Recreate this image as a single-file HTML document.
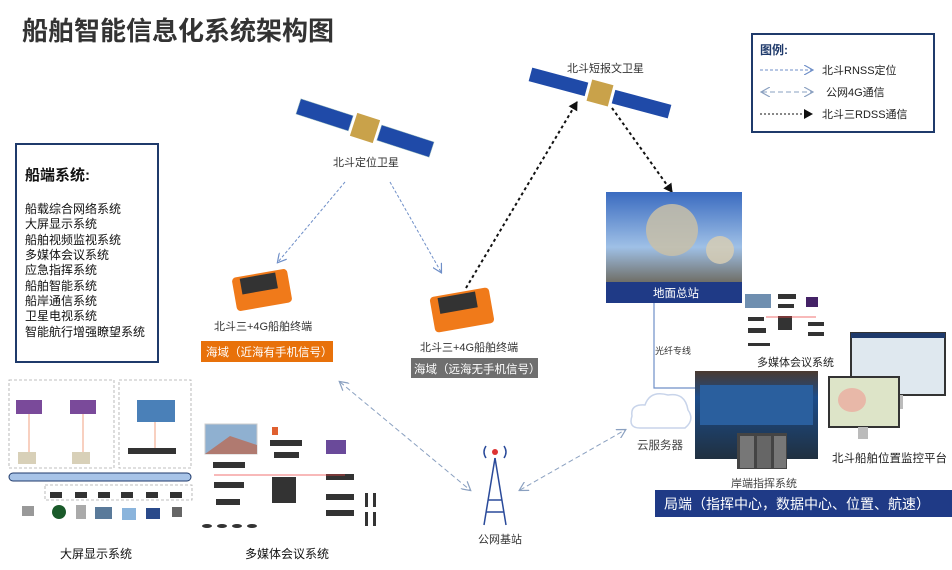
<!DOCTYPE html>
<html><head><meta charset="utf-8"><style>
body{margin:0;width:952px;height:565px;overflow:hidden;background:#fff;font-family:"Liberation Sans","Noto Sans CJK SC",sans-serif;}
svg text{font-family:"Liberation Sans","Noto Sans CJK SC",sans-serif;}
</style></head><body>
<svg width="952" height="565" viewBox="0 0 952 565" xmlns="http://www.w3.org/2000/svg">
<defs>
<marker id="ab" markerWidth="10" markerHeight="10" refX="8" refY="5" orient="auto" markerUnits="userSpaceOnUse"><path d="M0,0 L9,5 L0,10" fill="none" stroke="#6f8fc8" stroke-width="1.2"/></marker>
<marker id="ak" markerWidth="10" markerHeight="10" refX="8" refY="5" orient="auto" markerUnits="userSpaceOnUse"><path d="M0,0 L9,5 L0,10 z" fill="#111"/></marker>
<marker id="ag" markerWidth="10" markerHeight="10" refX="8" refY="5" orient="auto-start-reverse" markerUnits="userSpaceOnUse"><path d="M0,0 L9,5 L0,10" fill="none" stroke="#8aa0c0" stroke-width="1.2"/></marker>
<linearGradient id="sky" x1="0" y1="0" x2="0" y2="1"><stop offset="0" stop-color="#3a6bc0"/><stop offset="0.6" stop-color="#9fc0e6"/><stop offset="1" stop-color="#6d6a60"/></linearGradient>
<linearGradient id="wall" x1="0" y1="0" x2="0" y2="1"><stop offset="0" stop-color="#4a3a30"/><stop offset="0.3" stop-color="#1c4c8a"/><stop offset="1" stop-color="#203040"/></linearGradient>
</defs>
<text x="22" y="40" font-size="26" font-weight="bold" fill="#333">船舶智能信息化系统架构图</text>

<!-- legend -->
<rect x="752" y="34" width="182" height="98" fill="#fff" stroke="#1f3a6b" stroke-width="2"/>
<text x="760" y="54" font-size="12" font-weight="bold" fill="#1f3a6b">图例:</text>
<line x1="760" y1="70" x2="812" y2="70" stroke="#6f8fc8" stroke-dasharray="3,2" marker-end="url(#ab)"/>
<text x="822" y="74" font-size="11" fill="#222">北斗RNSS定位</text>
<line x1="762" y1="92" x2="812" y2="92" stroke="#8aa0c0" stroke-dasharray="5,3" marker-start="url(#ag)" marker-end="url(#ag)"/>
<text x="826" y="96" font-size="11" fill="#222">公网4G通信</text>
<line x1="760" y1="114" x2="812" y2="114" stroke="#111" stroke-dasharray="2,2" marker-end="url(#ak)"/>
<text x="822" y="118" font-size="11" fill="#222">北斗三RDSS通信</text>

<!-- satellite 1 -->
<g transform="translate(365,128) rotate(18)">
<rect x="-70" y="-8" width="55" height="16" fill="#1f4aa8" stroke="#9bb" stroke-width="0.5"/>
<rect x="15" y="-8" width="55" height="16" fill="#1f4aa8" stroke="#9bb" stroke-width="0.5"/>
<rect x="-12" y="-12" width="24" height="24" fill="#c9a24a"/>
</g>
<text x="333" y="166" font-size="11" fill="#333">北斗定位卫星</text>
<!-- satellite 2 -->
<g transform="translate(600,93) rotate(15)">
<rect x="-72" y="-7" width="58" height="14" fill="#1f4aa8"/>
<rect x="14" y="-7" width="58" height="14" fill="#1f4aa8"/>
<rect x="-11" y="-11" width="22" height="22" fill="#c9a24a"/>
</g>
<text x="567" y="72" font-size="11" fill="#333">北斗短报文卫星</text>

<!-- RNSS arrows -->
<line x1="345" y1="182" x2="278" y2="262" stroke="#6f8fc8" stroke-dasharray="3,2" marker-end="url(#ab)"/>
<line x1="390" y1="182" x2="441" y2="272" stroke="#6f8fc8" stroke-dasharray="3,2" marker-end="url(#ab)"/>
<!-- RDSS -->
<line x1="466" y1="288" x2="577" y2="102" stroke="#111" stroke-width="2" stroke-dasharray="3,3" marker-end="url(#ak)"/>
<line x1="612" y1="108" x2="672" y2="192" stroke="#111" stroke-width="2" stroke-dasharray="3,3" marker-end="url(#ak)"/>
<!-- 4G -->
<line x1="340" y1="382" x2="470" y2="490" stroke="#8aa0c0" stroke-dasharray="5,3" marker-start="url(#ag)" marker-end="url(#ag)"/>
<line x1="520" y1="490" x2="625" y2="430" stroke="#8aa0c0" stroke-dasharray="5,3" marker-start="url(#ag)" marker-end="url(#ag)"/>

<!-- left box -->
<rect x="16" y="144" width="142" height="218" fill="#fff" stroke="#1f3a6b" stroke-width="2"/>
<text x="25" y="180" font-size="15" font-weight="bold" fill="#111">船端系统:</text>
<g font-size="12" fill="#111">
<text x="25" y="213">船载综合网络系统</text><text x="25" y="228">大屏显示系统</text><text x="25" y="244">船舶视频监视系统</text><text x="25" y="259">多媒体会议系统</text><text x="25" y="274">应急指挥系统</text><text x="25" y="290">船舶智能系统</text><text x="25" y="305">船岸通信系统</text><text x="25" y="320">卫星电视系统</text><text x="25" y="336">智能航行增强瞭望系统</text>
</g>

<!-- terminals -->
<g transform="translate(262,290) rotate(-10)"><rect x="-28" y="-17" width="56" height="34" rx="4" fill="#f07a1a"/><rect x="-20" y="-15" width="36" height="16" fill="#333"/></g>
<text x="214" y="330" font-size="11" fill="#333">北斗三+4G船舶终端</text>
<rect x="201" y="341" width="132" height="21" fill="#e8710a"/>
<text x="206" y="356" font-size="11.5" fill="#fff">海域（近海有手机信号）</text>
<g transform="translate(462,310) rotate(-10)"><rect x="-30" y="-18" width="60" height="36" rx="4" fill="#f07a1a"/><rect x="-22" y="-16" width="38" height="16" fill="#333"/></g>
<text x="420" y="351" font-size="11" fill="#333">北斗三+4G船舶终端</text>
<rect x="411" y="358" width="127" height="20" fill="#6f6f6f"/>
<text x="414" y="373" font-size="11.5" fill="#fff">海域（远海无手机信号）</text>

<!-- ground station -->
<rect x="606" y="192" width="136" height="92" fill="url(#sky)"/>
<circle cx="672" cy="230" r="26" fill="#c8bfa8" opacity="0.85"/>
<circle cx="720" cy="250" r="14" fill="#d6ccb4" opacity="0.85"/>
<rect x="606" y="282" width="136" height="21" fill="#1f3a86"/>
<text x="653" y="297" font-size="11.5" fill="#fff">地面总站</text>
<polyline points="654,303 654,388 695,388" fill="none" stroke="#6f8fc8" stroke-width="1.2"/>
<text x="655" y="354" font-size="9" fill="#333">光纤专线</text>

<!-- small multimedia -->
<g fill="#333"><rect x="745" y="294" width="26" height="14" fill="#6f8fb0"/><rect x="778" y="294" width="18" height="5"/><rect x="806" y="297" width="12" height="10" fill="#442266"/><rect x="748" y="317" width="16" height="4"/><rect x="748" y="328" width="18" height="5"/><rect x="778" y="316" width="14" height="14"/><rect x="808" y="322" width="16" height="4"/><rect x="808" y="332" width="16" height="4"/><rect x="778" y="304" width="16" height="4"/><rect x="748" y="343" width="22" height="3"/></g>
<line x1="766" y1="317" x2="816" y2="317" stroke="#e44" stroke-width="0.8"/>
<text x="757" y="366" font-size="11" fill="#222">多媒体会议系统</text>

<!-- command center -->
<rect x="695" y="371" width="123" height="88" fill="url(#wall)"/>
<rect x="700" y="385" width="113" height="40" fill="#2a5f9e"/>
<rect x="737" y="433" width="50" height="36" fill="#444"/>
<rect x="740" y="436" width="14" height="32" fill="#777"/><rect x="757" y="436" width="14" height="32" fill="#666"/><rect x="774" y="436" width="12" height="32" fill="#777"/>
<text x="731" y="487" font-size="11" fill="#444">岸端指挥系统</text>
<!-- cloud -->
<path d="M640,428 Q628,428 632,416 Q630,404 645,405 Q650,390 668,395 Q685,392 688,410 Q695,420 685,428 Z" fill="#fff" stroke="#c8d4ea" stroke-width="1.5"/>
<text x="637" y="449" font-size="11.5" fill="#444">云服务器</text>
<!-- monitors -->
<rect x="851" y="333" width="94" height="62" fill="#dfe8ef" stroke="#333" stroke-width="2"/>
<rect x="851" y="333" width="94" height="5" fill="#1f3a6b"/>
<rect x="893" y="395" width="10" height="14" fill="#bbb"/>
<rect x="829" y="377" width="70" height="50" fill="#dde4c8" stroke="#333" stroke-width="2"/>
<ellipse cx="852" cy="400" rx="14" ry="12" fill="#e8b8a8"/>
<rect x="858" y="427" width="10" height="12" fill="#bbb"/>
<text x="832" y="462" font-size="11.5" fill="#222">北斗船舶位置监控平台</text>
<!-- bottom bar -->
<rect x="655" y="490" width="297" height="27" fill="#1f3a86"/>
<text x="664" y="509" font-size="14" fill="#fff">局端（指挥中心，数据中心、位置、航速）</text>

<!-- tower -->
<g stroke="#2a4a9a" stroke-width="1.5" fill="none"><line x1="495" y1="458" x2="484" y2="525"/><line x1="495" y1="458" x2="506" y2="525"/><line x1="488" y1="500" x2="502" y2="500"/><line x1="486" y1="512" x2="504" y2="512"/><path d="M486,446 Q482,452 486,458 M504,446 Q508,452 504,458"/></g>
<circle cx="495" cy="452" r="3" fill="#d33"/>
<text x="478" y="543" font-size="11" fill="#333">公网基站</text>

<!-- left bottom diagram -->
<g stroke="#aaa" stroke-dasharray="3,2" fill="none" stroke-width="0.8">
<rect x="9" y="380" width="105" height="88"/><rect x="119" y="380" width="72" height="88"/><rect x="45" y="485" width="147" height="15"/></g>
<rect x="16" y="400" width="26" height="14" fill="#7a4a9a"/><rect x="70" y="400" width="26" height="14" fill="#7a4a9a"/>
<rect x="137" y="400" width="38" height="22" fill="#4a80b8"/>
<rect x="128" y="448" width="48" height="6" fill="#333"/>
<rect x="18" y="452" width="18" height="12" fill="#d8d0b8"/><rect x="72" y="452" width="18" height="12" fill="#d8d0b8"/>
<g stroke="#f0a080" stroke-width="1"><line x1="29" y1="414" x2="29" y2="452"/><line x1="83" y1="414" x2="83" y2="452"/><line x1="155" y1="422" x2="155" y2="448"/></g>
<rect x="9" y="473" width="182" height="8" rx="4" fill="#a8c4e8" stroke="#1f3a6b"/>
<g fill="#333"><rect x="50" y="492" width="12" height="6"/><rect x="75" y="492" width="12" height="6"/><rect x="98" y="492" width="12" height="6"/><rect x="121" y="492" width="12" height="6"/><rect x="146" y="492" width="12" height="6"/><rect x="170" y="492" width="12" height="6"/></g>
<circle cx="59" cy="512" r="7" fill="#1a5a2a"/><rect x="95" y="507" width="17" height="12" fill="#5a7a9a"/><rect x="122" y="508" width="14" height="12" fill="#8ab4dc"/><rect x="146" y="508" width="14" height="11" fill="#2a4a8a"/><rect x="22" y="506" width="12" height="10" fill="#999"/><rect x="76" y="505" width="10" height="14" fill="#aaa"/><rect x="172" y="507" width="10" height="10" fill="#666"/>
<text x="60" y="558" font-size="12" fill="#111">大屏显示系统</text>

<!-- multimedia left -->
<rect x="205" y="424" width="52" height="30" fill="#8fb0d0" stroke="#ccc"/>
<polygon points="205,454 230,436 257,445 257,454" fill="#b07a70"/>
<rect x="272" y="427" width="6" height="8" fill="#e06030"/>
<g fill="#333"><rect x="270" y="440" width="32" height="6"/><rect x="274" y="452" width="25" height="6"/><rect x="213" y="462" width="32" height="6"/><rect x="214" y="482" width="30" height="6"/><rect x="216" y="499" width="24" height="6"/><rect x="272" y="477" width="24" height="26"/><rect x="326" y="474" width="28" height="6"/><rect x="326" y="494" width="28" height="6"/><rect x="326" y="510" width="28" height="6"/><rect x="365" y="493" width="3" height="14"/><rect x="373" y="493" width="3" height="14"/><rect x="365" y="512" width="3" height="14"/><rect x="373" y="512" width="3" height="14"/></g>
<rect x="326" y="440" width="20" height="14" fill="#6a4a9a"/>
<line x1="214" y1="475" x2="345" y2="475" stroke="#e44" stroke-width="0.8"/>
<g fill="#333"><ellipse cx="207" cy="526" rx="5" ry="2"/><ellipse cx="222" cy="526" rx="5" ry="2"/><ellipse cx="237" cy="526" rx="5" ry="2"/><ellipse cx="252" cy="526" rx="5" ry="2"/></g>
<text x="245" y="558" font-size="12" fill="#111">多媒体会议系统</text>
</svg>
</body></html>
